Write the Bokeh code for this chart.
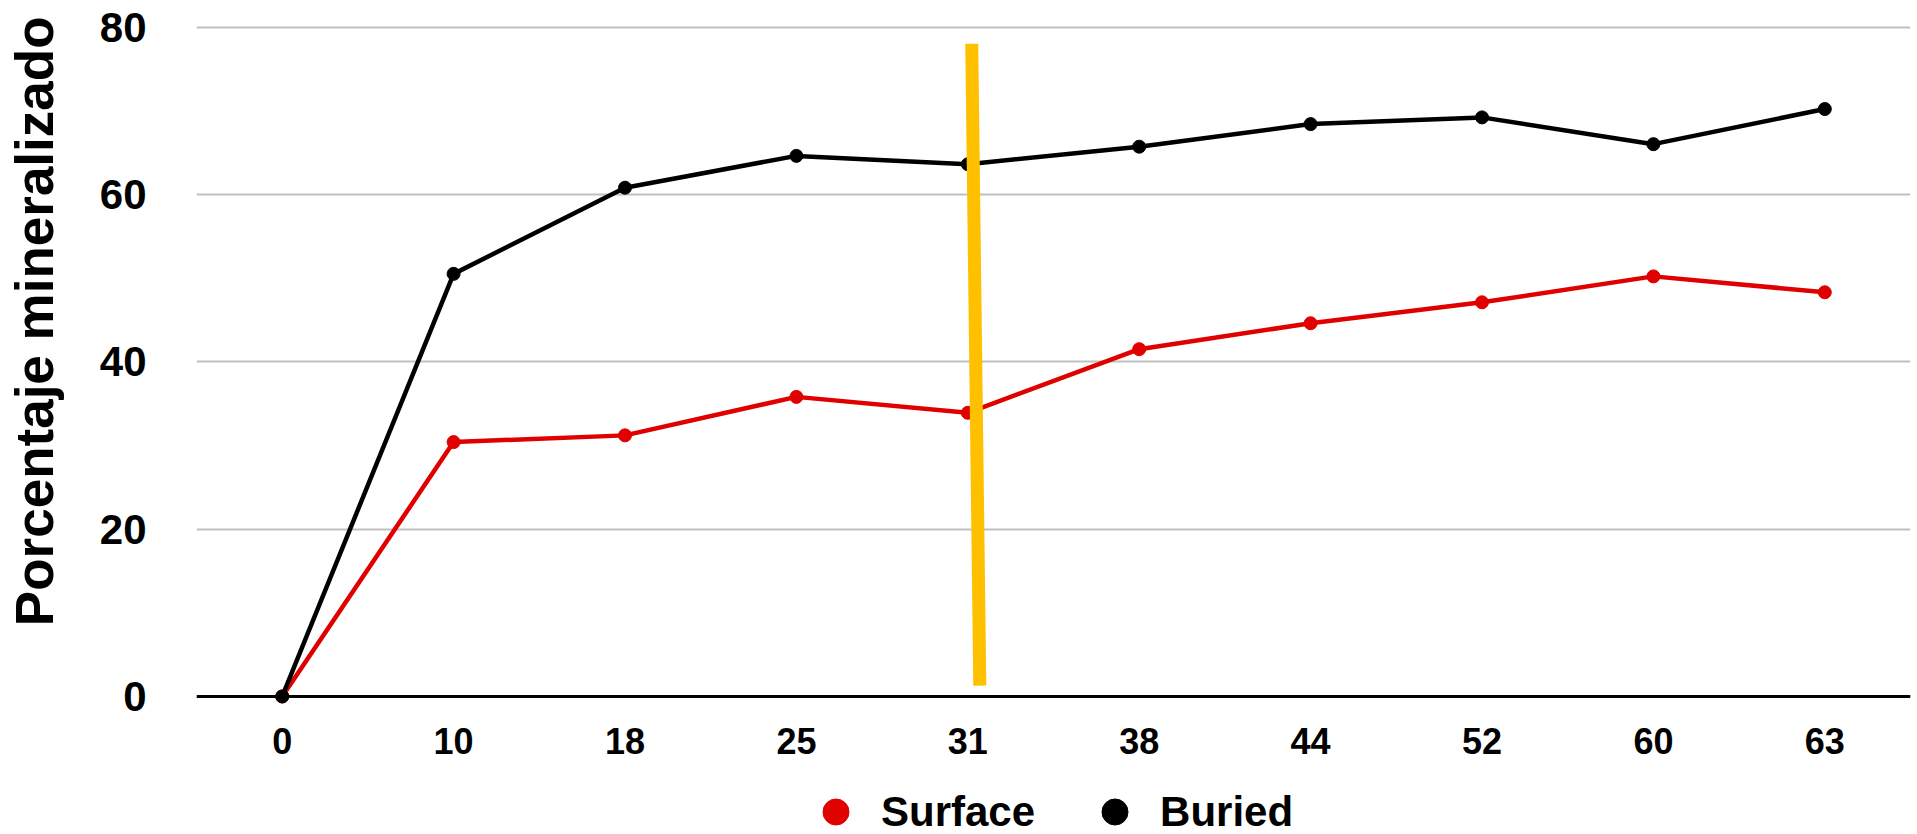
from bokeh.plotting import figure
from bokeh.layouts import column
from bokeh.models import (FactorRange, Range1d, FixedTicker, Span,
                          Legend, LegendItem, ColumnDataSource)
from bokeh.transform import dodge
from bokeh.embed import file_html
from bokeh.resources import INLINE

# ---- data ----
days = ["0", "10", "18", "25", "31", "38", "44", "52", "60", "63"]
surface = [0, 30.4, 31.2, 35.8, 33.9, 41.5, 44.6, 47.1, 50.2, 48.3]
buried = [0, 50.5, 60.8, 64.6, 63.6, 65.7, 68.4, 69.2, 66.0, 70.2]
y_ticks = [0, 20, 40, 60, 80]
series_names = ["Surface", "Buried"]
y_title = "Porcentaje mineralizado"
# hand-drawn yellow marker near day 31
marker_day = ["31"]
marker_top = [78.0]
marker_bottom = [1.3]

FONT = "Liberation Sans"
RED = "#E00000"
BLACK = "#000000"
W, H, HLEG = 1917, 834, 64
LEFT = 196

src = ColumnDataSource(dict(day=days, surface=surface, buried=buried))

p = figure(width=W, height=H - HLEG, x_range=FactorRange(factors=days),
           y_range=Range1d(-1.2, 80.3), output_backend="svg",
           toolbar_location=None, min_border_left=LEFT, min_border_right=7,
           min_border_top=24, min_border_bottom=H - HLEG - 706)
p.outline_line_color = None
p.background_fill_color = "white"
p.border_fill_color = "white"

# grid
p.xgrid.grid_line_color = None
p.ygrid.ticker = FixedTicker(ticks=y_ticks)
p.ygrid.grid_line_color = "#C0C0C0"
p.ygrid.grid_line_width = 2

# axes
p.yaxis.ticker = FixedTicker(ticks=y_ticks)
p.yaxis.axis_line_color = None
p.yaxis.major_tick_line_color = None
p.yaxis.minor_tick_line_color = None
p.yaxis.major_label_standoff = 44
p.yaxis.major_label_text_font = FONT
p.yaxis.major_label_text_font_style = "bold"
p.yaxis.major_label_text_font_size = "42px"
p.yaxis.major_label_text_color = "black"
# leading no-break spaces shift the title upward, as in the reference
p.yaxis.axis_label = "\u00a0" * 6 + y_title
p.yaxis.axis_label_standoff = 33
p.yaxis.axis_label_text_font = FONT
p.yaxis.axis_label_text_font_style = "bold"
p.yaxis.axis_label_text_font_size = "53px"
p.yaxis.axis_label_text_color = "black"

p.xaxis.axis_line_color = None
p.xaxis.major_tick_line_color = None
p.xaxis.minor_tick_line_color = None
p.xaxis.major_label_standoff = 15
p.xaxis.major_label_text_font = FONT
p.xaxis.major_label_text_font_style = "bold"
p.xaxis.major_label_text_font_size = "36px"
p.xaxis.major_label_text_color = "black"

# zero line
p.add_layout(Span(location=0, dimension="width", line_color="black", line_width=3))

# series
p.line("day", "surface", source=src, line_color=RED, line_width=4.5)
p.scatter("day", "surface", source=src, size=13, fill_color=RED, line_color=RED)
p.line("day", "buried", source=src, line_color=BLACK, line_width=4.5)
p.scatter("day", "buried", source=src, size=13, fill_color=BLACK, line_color=BLACK)

# yellow marker line
msrc = ColumnDataSource(dict(day=marker_day, top=marker_top, bottom=marker_bottom))
p.segment(x0=dodge("day", 0.023, range=p.x_range), y0="top",
          x1=dodge("day", 0.07, range=p.x_range), y1="bottom",
          source=msrc, line_color="#FFC000", line_width=13)

# ---- legend strip below the chart ----
pl = figure(width=W, height=HLEG, x_range=Range1d(0, 1), y_range=Range1d(0, 1),
            x_axis_type=None, y_axis_type=None, output_backend="svg",
            toolbar_location=None, min_border=0)
pl.outline_line_color = None
pl.background_fill_color = "white"
pl.border_fill_color = "white"
# legend-only swatch renderers, parked outside the strip's visible range
swatch = ColumnDataSource(dict(x=[-5], y=[-5]))
ks = pl.scatter("x", "y", source=swatch, fill_color=RED, line_color=RED)
kb = pl.scatter("x", "y", source=swatch, fill_color=BLACK, line_color=BLACK)
legend = Legend(items=[LegendItem(label=series_names[0], renderers=[ks], index=0),
                       LegendItem(label=series_names[1], renderers=[kb], index=0)],
                location=(803 - LEFT, -10), orientation="horizontal",
                glyph_width=65, glyph_height=65, label_standoff=13, spacing=47,
                padding=0, margin=0, border_line_alpha=0,
                background_fill_alpha=0, label_text_font=FONT,
                label_text_font_style="bold", label_text_font_size="42px",
                label_text_color="black")
pl.add_layout(legend, "center")

layout = column(p, pl, spacing=0)
open("out.html", "w").write(file_html(layout, INLINE))
